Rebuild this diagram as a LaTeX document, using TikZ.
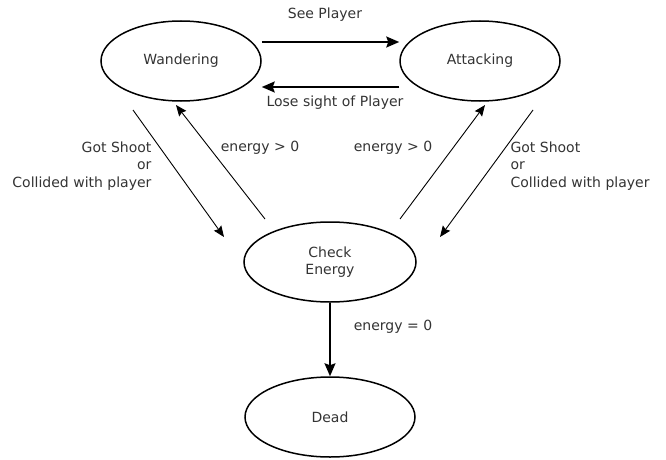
\documentclass[tikz,border=0pt]{standalone}
\usepackage{fontspec}
\setmainfont{DejaVu Sans}
\usetikzlibrary{arrows.meta, shapes.geometric}

\begin{document}
\begin{tikzpicture}[x=1pt, y=1pt, >={Stealth[length=13pt, width=11pt, inset=2pt]},
    state/.style={ellipse, draw, line width=1.5pt, minimum width=160pt,
                  minimum height=80pt, text=black!80, inner sep=0pt,
                  font=\fontsize{14}{17.5}\selectfont, align=center},
    lbl/.style={text=black!80, font=\fontsize{14}{17.5}\selectfont},
    thin arrow/.style={->, line width=0.9pt,
                       >={Stealth[length=11pt, width=9pt, inset=1.5pt]}}]
  \useasboundingbox (0,0) rectangle (666,459);

  % States
  \node[state] (wander) at (181,398) {Wandering};
  \node[state] (attack) at (480,398) {Attacking};
  \node[state, minimum width=172pt] (check) at (330,197) {Check\\Energy};
  \node[state, minimum width=170pt] (dead)  at (330,42)  {Dead};

  % Between wandering and attacking
  \draw[->, line width=1.8pt] ([yshift=19pt]wander.east) -- ([yshift=19pt]attack.west);
  \draw[->, line width=1.8pt] ([yshift=-26pt]attack.west) -- ([yshift=-26pt]wander.east);
  \node[lbl] (see)  at (325,444) {See Player};
  \node[lbl] (lose) at (335,356) {Lose sight of Player};

  % Left side
  \draw[thin arrow] ([shift={(-48,-49)}]wander.center) -- ([shift={(-106,25)}]check.center);
  \draw[thin arrow] ([shift={(-65,43)}]check.center) -- ([shift={(-5,-44)}]wander.center);
  \node[lbl, anchor=east, align=right] (hitl) at (155,293)
    {Got Shoot\\or\\Collided with player};
  \node[lbl] (alivel) at (260,311) {energy > 0};

  % Right side
  \draw[thin arrow] ([shift={(70,43)}]check.center) -- ([shift={(5,-44)}]attack.center);
  \draw[thin arrow] ([shift={(53,-49)}]attack.center) -- ([shift={(110,25)}]check.center);
  \node[lbl, anchor=west, align=left] (hitr) at (507,293)
    {Got Shoot\\or\\Collided with player};
  \node[lbl] (aliver) at (393,311) {energy > 0};

  % Down to dead
  \draw[->, line width=1.6pt] (check) -- (dead);
  \node[lbl] (zero) at (393,132) {energy = 0};
\end{tikzpicture}
\end{document}
